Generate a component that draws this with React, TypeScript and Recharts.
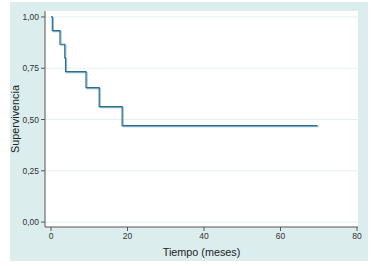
import React from 'react';
import { LineChart, Line, XAxis, YAxis, CartesianGrid } from 'recharts';

const times = [0, 0.35, 2.35, 3.6, 3.8, 9.15, 12.6, 18.6, 69.7];
const survival = [1.0, 0.933, 0.867, 0.8, 0.733, 0.655, 0.5625, 0.47, 0.47];
const xTicks = [0, 20, 40, 60, 80];
const yTicks = [0, 0.25, 0.5, 0.75, 1];

const data = times.map((t, i) => ({ t, s: survival[i] }));

const FONT = '"Liberation Sans", Arial, sans-serif';
const fmt = (v: number) => v.toFixed(2).replace('.', ',');

export default function App() {
  return (
    <div style={{ position: 'absolute', left: 0, top: 0, width: 373, height: 266, background: '#fff' }}>
      <style>{`.km-shadow { transform: translate(1px, 1px); }`}</style>
      <div style={{ position: 'absolute', left: 10, top: 2, width: 358, height: 259, background: '#dcedee' }} />
      <div style={{ position: 'absolute', left: 0, top: 0 }}>
        <LineChart width={373} height={266} data={data} margin={{ top: 11, right: 15, bottom: 0, left: 0 }}>
          <CartesianGrid vertical={false} stroke="#e3f1f2" fill="#ffffff" horizontalValues={yTicks} />
          <XAxis
            dataKey="t"
            type="number"
            domain={[-1.57, 80.26]}
            ticks={xTicks}
            allowDataOverflow
            height={39}
            stroke="#555"
            tickSize={4}
            tick={{ fontSize: 8.5, fill: '#333', fontFamily: FONT }}
            label={{ value: 'Tiempo (meses)', position: 'insideBottom', offset: 10, style: { fontSize: 10.8, fill: '#222', fontFamily: FONT } }}
          />
          <YAxis
            type="number"
            domain={[-0.024, 1.029]}
            ticks={yTicks}
            allowDataOverflow
            width={45}
            stroke="#555"
            tickSize={4}
            tickFormatter={fmt}
            tick={{ fontSize: 8.5, fill: '#333', fontFamily: FONT }}
            label={{ value: 'Supervivencia', angle: -90, position: 'insideLeft', offset: 15, style: { textAnchor: 'middle', fontSize: 10.8, fill: '#222', fontFamily: FONT } }}
          />
          <Line className="km-shadow" type="stepAfter" dataKey="s" stroke="#8cbfd6" strokeWidth={1.2} dot={false} activeDot={false} isAnimationActive={false} />
          <Line type="stepAfter" dataKey="s" stroke="#2f6d8d" strokeWidth={1.2} dot={false} activeDot={false} isAnimationActive={false} />
        </LineChart>
      </div>
    </div>
  );
}
